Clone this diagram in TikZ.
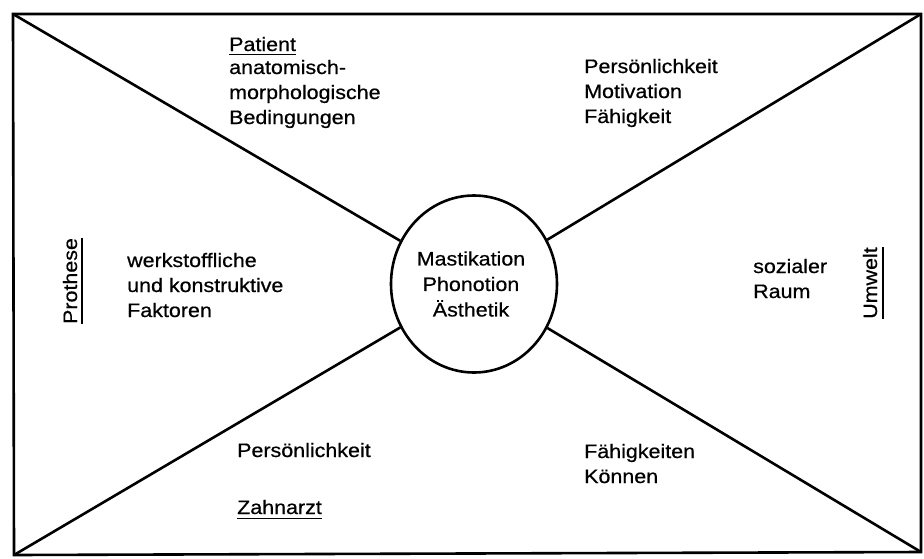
\documentclass[tikz,border=0pt]{standalone}
\usepackage{fontspec}
\setmainfont{Liberation Sans}[FakeStretch=1.1,FakeBold=0.6]
\usetikzlibrary{shapes.geometric}
\begin{document}
\begin{tikzpicture}[x=1pt,y=-1pt,
  frame/.style={line width=2.6pt},
  lbl/.style={inner sep=0pt, anchor=base west, align=left, font=\fontsize{19.5}{25}\selectfont},
  ctr/.style={inner sep=0pt, align=center, font=\fontsize{19.5}{25.5}\selectfont},
  side/.style={inner sep=0pt, anchor=base, rotate=90, font=\fontsize{19.5}{22}\selectfont},
  uline/.style={line width=1.5pt}]
\useasboundingbox (0,0) rectangle (924,558);
\coordinate (tl) at (13,14);
\coordinate (tr) at (921,14);
\coordinate (br) at (921,552);
\coordinate (bl) at (14,555);
\draw[frame] (tl) -- (tr) -- (br) -- (bl) -- cycle;
\node[ellipse, draw, line width=2.6pt, minimum width=166pt, minimum height=177pt, inner sep=0pt] (c) at (474,284) {};
\draw[frame] (tl) -- (c);
\draw[frame] (tr) -- (c);
\draw[frame] (bl) -- (c);
\draw[frame] (br) -- (c);
\node[ctr] (ct) at (471,284) {Mastikation\\Phonotion\\Ästhetik};
% top
\node[lbl] (pat) at (229,51) {Patient};
\draw[uline] ([yshift=-3.5pt]pat.base west) -- ([yshift=-3.5pt]pat.base east);
\node[lbl] (patt) at (229,124) {anatomisch-\\morphologische\\Bedingungen};
\node[lbl] (umt) at (584,123) {Persönlichkeit\\Motivation\\Fähigkeit};
% left
\node[side] (pro) at (77,281) {Prothese};
\draw[uline] ([xshift=5pt]pro.base west) -- ([xshift=5pt]pro.base east);
\node[lbl] (prot) at (127,317) {werkstoffliche\\und konstruktive\\Faktoren};
% right
\node[side] (umw) at (877,283) {Umwelt};
\draw[uline] ([xshift=6pt]umw.base west) -- ([xshift=6pt]umw.base east);
\node[lbl] (umwt) at (753,298) {sozialer\\Raum};
% bottom
\node[lbl] (zat) at (237,457) {Persönlichkeit};
\node[lbl] (za) at (237,514) {Zahnarzt};
\draw[uline] ([yshift=-4.5pt]za.base west) -- ([yshift=-4.5pt]za.base east);
\node[lbl] (fk) at (584,483) {Fähigkeiten\\Können};
\end{tikzpicture}
\end{document}
